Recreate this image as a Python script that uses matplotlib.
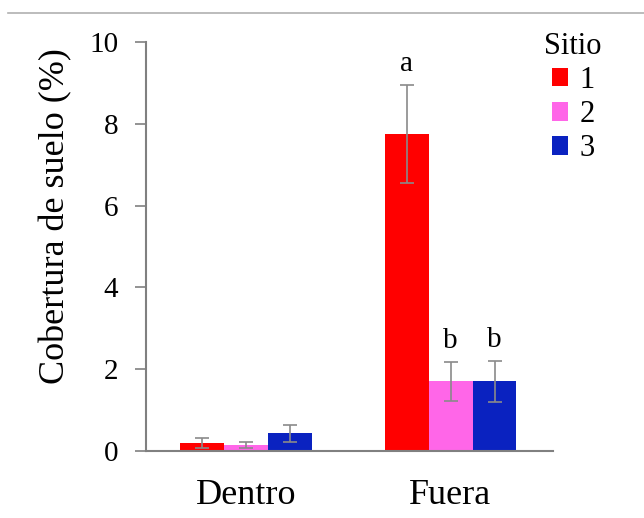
import matplotlib.pyplot as plt
from matplotlib.lines import Line2D
from matplotlib.patches import Patch
import numpy as np

plt.rcParams["font.family"] = ["Liberation Serif", "DejaVu Serif"]

groups = ["Dentro", "Fuera"]
sites = ["1", "2", "3"]
colors = ["#FF0000", "#FF66E8", "#0A22C0"]
# cover (%) per site, one entry per group
means = {
    "1": [0.20, 7.75],
    "2": [0.15, 1.70],
    "3": [0.43, 1.70],
}
errors = {
    "1": [0.12, 1.20],
    "2": [0.08, 0.47],
    "3": [0.20, 0.49],
}
letters = {"1": [None, "a"], "2": [None, "b"], "3": [None, "b"]}

fig = plt.figure(figsize=(6.44, 5.18), dpi=100)
ax = fig.add_axes([0.2267, 0.1293, 0.8587 - 0.2267, 0.919 - 0.1293])

x = np.arange(len(groups))
width = 0.215
for i, s in enumerate(sites):
    pos = x + (i - 1) * width
    ax.bar(pos, means[s], width=width, color=colors[i], edgecolor="none", zorder=2)
    ax.errorbar(pos, means[s], yerr=errors[s], fmt="none", ecolor="#8a8a8a",
                elinewidth=1.2, capsize=5, capthick=1.2, zorder=3)
    for p, m, e, t in zip(pos, means[s], errors[s], letters[s]):
        if t:
            ax.annotate(t, (p, m + e), xytext=(0, 6), textcoords="offset points",
                        ha="center", va="bottom", fontsize=21)

ax.set_ylim(0, 10)
ax.set_xlim(-0.489, 1.501)
ax.set_yticks([0, 2, 4, 6, 8, 10])
ax.set_xticks(x)
ax.set_xticklabels(groups, fontsize=26)
ax.tick_params(axis="y", labelsize=21, length=8, width=1.2, color="#808080", pad=12)
ax.tick_params(axis="x", length=0, pad=20)
ax.set_ylabel("Cobertura de suelo (%)", fontsize=26)
ax.yaxis.set_label_coords(-0.18, 0.575)

for side in ["top", "right"]:
    ax.spines[side].set_visible(False)
for side in ["left", "bottom"]:
    ax.spines[side].set_color("#808080")
    ax.spines[side].set_linewidth(1.5)

handles = [Patch(facecolor=c, edgecolor="none") for c in colors]
leg = fig.legend(handles, sites, title="Sitio", loc="upper left",
                 bbox_to_anchor=(0.812, 0.98), frameon=False, fontsize=22,
                 title_fontsize=22, handlelength=0.55, handleheight=0.55,
                 handletextpad=0.35, labelspacing=0.17, borderpad=0.2)

# thin rule across the top
fig.add_artist(Line2D([0.012, 1.0], [1 - 13 / 518, 1 - 13 / 518],
                      transform=fig.transFigure, color="#b0b0b0", linewidth=1.2))

fig.savefig("out.png", dpi=100)
